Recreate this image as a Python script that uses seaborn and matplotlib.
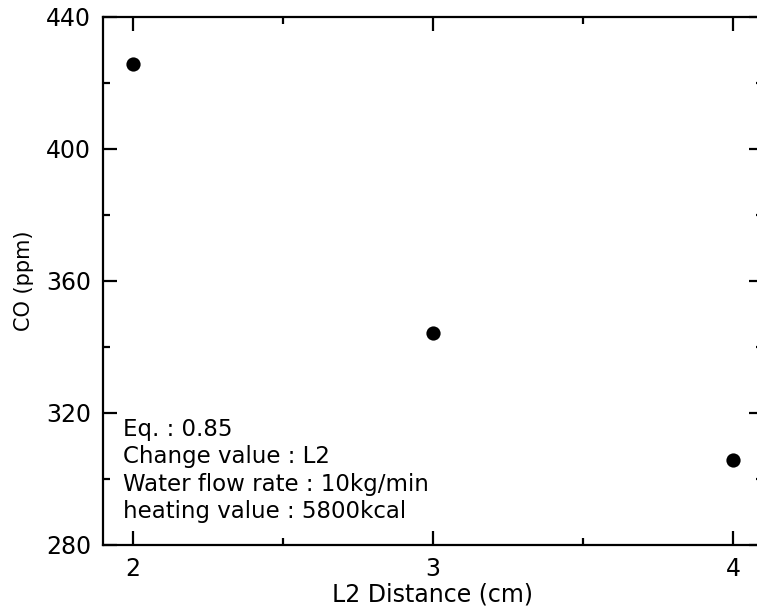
import matplotlib
matplotlib.use("Agg")
import matplotlib.pyplot as plt
from matplotlib.ticker import MultipleLocator
import seaborn as sns
import pandas as pd

# L2 distance vs CO concentration
distance_cm = [2, 3, 4]
co_ppm = [425.8, 344.2, 305.8]
info_lines = ["Eq. : 0.85", "Change value : L2",
              "Water flow rate : 10kg/min", "heating value : 5800kcal"]

sns.set_theme(style="ticks")
plt.rcParams["font.family"] = ["DejaVu Sans"]
plt.rcParams["text.color"] = "black"
plt.rcParams["axes.labelcolor"] = "black"

df = pd.DataFrame({"L2 Distance (cm)": distance_cm, "CO (ppm)": co_ppm})

fig = plt.figure(figsize=(7.57, 6.15), dpi=100)
ax = fig.add_axes([103 / 757, 70 / 615, 660 / 757, 528 / 615])

sns.scatterplot(data=df, x="L2 Distance (cm)", y="CO (ppm)", ax=ax,
                color="black", s=105, edgecolor="black", linewidth=0, zorder=3)

ax.set_xlim(1.9, 4.1)
ax.set_ylim(280, 440)
ax.xaxis.set_major_locator(MultipleLocator(1))
ax.xaxis.set_minor_locator(MultipleLocator(0.5))
ax.yaxis.set_major_locator(MultipleLocator(40))
ax.yaxis.set_minor_locator(MultipleLocator(20))

for s in ax.spines.values():
    s.set_linewidth(1.6)
    s.set_color("black")
ax.tick_params(which="both", direction="in", top=True, right=True,
               width=1.6, colors="black", labelsize=17)
ax.tick_params(which="major", length=10, pad=8.5)
ax.tick_params(which="minor", length=5)

ax.set_xlabel("L2 Distance (cm)", fontsize=17, labelpad=1)
ax.set_ylabel("CO (ppm)", fontsize=15, labelpad=9)

for i, line in enumerate(info_lines):
    ax.text(0.03, 0.2064 - i * 0.0517, line, transform=ax.transAxes,
            fontsize=16.5, va="baseline", ha="left", color="black")

fig.savefig("out.png", dpi=100)
